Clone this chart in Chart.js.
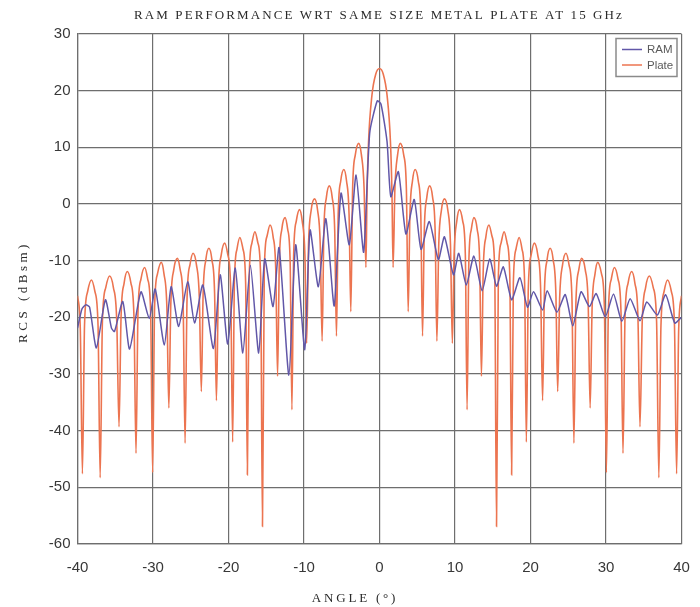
<!DOCTYPE html>
<html>
<head>
<meta charset="utf-8">
<script src="https://cdn.jsdelivr.net/npm/chart.js@4.4.1/dist/chart.umd.min.js"></script>
<style>
  html, body { margin: 0; padding: 0; background: #fff; }
  #caixa { width: 700px; height: 607px; position: relative; }
</style>
</head>
<body>
<div id="caixa"><canvas id="grafico"></canvas></div>
<script>
// textos
const titulo = 'RAM PERFORMANCE WRT SAME SIZE METAL PLATE AT 15 GHz';
const tituloX = 'ANGLE (°)';
const tituloY = 'RCS (dBsm)';
const nomes = ['RAM', 'Plate'];

// eixos
const xTicks = [-40, -30, -20, -10, 0, 10, 20, 30, 40];
const yTicks = [-60, -50, -40, -30, -20, -10, 0, 10, 20, 30];

// RAM
const ramAngle = [
  -40, -39.4, -38.9, -38.4, -37.5, -36.3, -35.5, -35.1, -34.0, -33.1,
  -31.6, -30.5, -29.7, -28.5, -27.6, -26.6, -25.4, -24.5, -23.4, -22.0,
  -21.1, -20.1, -19.1, -18.1, -17.1, -16.0, -15.2, -14.1, -13.3, -12.0,
  -11.1, -9.9, -9.2, -8.1, -7.1, -6.0, -5.1, -4.0, -3.1, -2.1,
  -1.3, -0.3, 0.2, 1.0, 1.5, 2.5, 3.5, 4.6, 5.5, 6.6,
  7.8, 8.6, 9.8, 10.5, 11.5, 12.5, 13.6, 14.6, 15.5, 16.4,
  17.5, 18.6, 19.6, 20.4, 21.6, 22.2, 23.5, 24.6, 25.6, 26.7,
  27.8, 28.7, 29.9, 31.0, 32.1, 33.2, 34.5, 35.4, 36.8, 37.9,
  39.1, 40
];
const ramRcs = [
  -21.9, -18.5, -17.8, -18.2, -25.4, -16.9, -21.9, -22.5, -17.2, -25.6,
  -15.5, -20.2, -15.0, -24.9, -14.6, -21.6, -13.7, -21.0, -14.3, -25.5,
  -12.5, -24.7, -11.3, -26.3, -10.8, -26.3, -9.7, -18.1, -7.7, -30.2,
  -7.2, -25.7, -4.6, -14.6, -2.6, -18.0, 1.9, -7.2, 5.1, -8.5,
  12.5, 18.2, 17.6, 11.0, 1.3, 5.7, -5.3, 0.8, -8.0, -3.1,
  -9.8, -5.8, -12.5, -8.7, -14.3, -9.2, -15.3, -9.7, -14.5, -11.1,
  -16.9, -13.0, -18.2, -15.5, -18.7, -15.3, -19.1, -16.0, -21.5, -15.5,
  -18.1, -15.8, -19.9, -15.9, -20.7, -16.7, -20.6, -17.3, -19.6, -16.0,
  -21.0, -20.0
];

// Placa metalica
const plateAngle = [
  -40, -39.63, -39.35,
  -39.07, -38.65, -38.15, -37.7, -37.28, -37.0,
  -36.7, -36.25, -35.75, -35.25, -34.8, -34.5,
  -34.23, -33.82, -33.4, -32.93, -32.52, -32.25,
  -31.99, -31.59, -31.1, -30.71, -30.31, -30.05,
  -29.79, -29.4, -28.9, -28.55, -28.16, -27.9,
  -27.64, -27.25, -26.75, -26.4, -26.01, -25.75,
  -25.49, -25.1, -24.7, -24.25, -23.86, -23.6,
  -23.36, -23.0, -22.6, -22.2, -21.84, -21.6,
  -21.34, -20.95, -20.5, -20.1, -19.71, -19.45,
  -19.22, -18.87, -18.5, -18.09, -17.73, -17.5,
  -17.26, -16.9, -16.5, -16.1, -15.74, -15.5,
  -15.26, -14.9, -14.5, -14.1, -13.74, -13.5,
  -13.27, -12.93, -12.5, -12.17, -11.83, -11.6,
  -11.37, -11.02, -10.6, -10.24, -9.88, -9.65,
  -9.4, -9.05, -8.6, -8.2, -7.85, -7.6,
  -7.37, -7.03, -6.65, -6.27, -5.93, -5.7,
  -5.47, -5.13, -4.72, -4.37, -4.03, -3.8,
  -3.56, -3.2, -2.75, -2.4, -2.04, -1.8,
  -1.65, -1.45, -1.0, -0.5, 0, 0.5, 1.0, 1.45, 1.65, 1.8,
  2.04, 2.4, 2.75, 3.2, 3.56, 3.8,
  4.03, 4.37, 4.72, 5.13, 5.47, 5.7,
  5.93, 6.27, 6.65, 7.03, 7.37, 7.6,
  7.85, 8.2, 8.6, 9.05, 9.4, 9.65,
  9.88, 10.24, 10.6, 11.02, 11.37, 11.6,
  11.83, 12.17, 12.5, 12.93, 13.27, 13.5,
  13.74, 14.1, 14.5, 14.9, 15.26, 15.5,
  15.74, 16.1, 16.5, 16.9, 17.26, 17.5,
  17.73, 18.09, 18.5, 18.87, 19.22, 19.45,
  19.71, 20.1, 20.5, 20.95, 21.34, 21.6,
  21.84, 22.2, 22.6, 23.0, 23.36, 23.6,
  23.86, 24.25, 24.7, 25.1, 25.49, 25.75,
  26.01, 26.4, 26.75, 27.25, 27.64, 27.9,
  28.16, 28.55, 28.9, 29.4, 29.79, 30.05,
  30.31, 30.71, 31.1, 31.59, 31.99, 32.25,
  32.52, 32.93, 33.4, 33.82, 34.23, 34.5,
  34.8, 35.25, 35.75, 36.25, 36.7, 37.0,
  37.28, 37.7, 38.15, 38.65, 39.07, 39.35,
  39.63, 40
];
const plateRcs = [
  -16.2, -22, -47.6,
  -21.4, -15.4, -13.4, -15.4, -21.4, -48.3,
  -20.7, -14.7, -12.7, -14.7, -20.7, -39.3,
  -19.9, -13.9, -11.9, -13.9, -19.9, -44,
  -19.2, -13.2, -11.2, -13.2, -19.2, -47.4,
  -18.3, -12.3, -10.3, -12.3, -18.3, -36,
  -17.6, -11.6, -9.6, -11.6, -17.6, -42.2,
  -16.7, -10.7, -8.7, -10.7, -16.7, -33.1,
  -15.8, -9.8, -7.8, -9.8, -15.8, -34.7,
  -14.9, -8.9, -6.9, -8.9, -14.9, -42,
  -13.9, -7.9, -5.9, -7.9, -13.9, -47.8,
  -12.9, -6.9, -4.9, -6.9, -12.9, -56.9,
  -11.7, -5.7, -3.7, -5.7, -11.7, -30.4,
  -10.4, -4.4, -2.4, -4.4, -10.4, -36.3,
  -9, -3, -1.0, -3, -9, -24.6,
  -7.1, -1.1, 0.9, -1.1, -7.1, -24.2,
  -4.8, 1.2, 3.2, 1.2, -4.8, -23.3,
  -1.9, 4.1, 6.1, 4.1, -1.9, -19,
  2.7, 8.7, 10.7, 8.7, 2.7, -11.2,
  2, 11, 19.2, 22.9, 23.9, 22.9, 19.2, 11, 2, -11.2,
  2.7, 8.7, 10.7, 8.7, 2.7, -19,
  -1.9, 4.1, 6.1, 4.1, -1.9, -23.3,
  -4.8, 1.2, 3.2, 1.2, -4.8, -24.2,
  -7.1, -1.1, 0.9, -1.1, -7.1, -24.6,
  -9, -3, -1.0, -3, -9, -36.3,
  -10.4, -4.4, -2.4, -4.4, -10.4, -30.4,
  -11.7, -5.7, -3.7, -5.7, -11.7, -56.9,
  -12.9, -6.9, -4.9, -6.9, -12.9, -47.8,
  -13.9, -7.9, -5.9, -7.9, -13.9, -42,
  -14.9, -8.9, -6.9, -8.9, -14.9, -34.7,
  -15.8, -9.8, -7.8, -9.8, -15.8, -33.1,
  -16.7, -10.7, -8.7, -10.7, -16.7, -42.2,
  -17.6, -11.6, -9.6, -11.6, -17.6, -36,
  -18.3, -12.3, -10.3, -12.3, -18.3, -47.4,
  -19.2, -13.2, -11.2, -13.2, -19.2, -44,
  -19.9, -13.9, -11.9, -13.9, -19.9, -39.3,
  -20.7, -14.7, -12.7, -14.7, -20.7, -48.3,
  -21.4, -15.4, -13.4, -15.4, -21.4, -47.6,
  -22, -16.2
];

const corRam = '#6157a8';
const corPlate = '#ec7450';
const corGrade = '#6e6e6e';
const fonteSerif = '"Liberation Serif", "Times New Roman", serif';
const fonteSans = '"Liberation Sans", Arial, sans-serif';

function juntar(xs, ys) {
  return xs.map((x, i) => ({ x: x, y: ys[i] }));
}

// titulo, rotulos dos eixos e legenda
const textosPlugin = {
  id: 'textos',
  afterDraw(chart) {
    const ctx = chart.ctx;
    ctx.save();
    ctx.fillStyle = '#2a2a2a';
    ctx.font = '13px ' + fonteSerif;
    ctx.textAlign = 'center';
    ctx.textBaseline = 'alphabetic';
    ctx.letterSpacing = '2.1px';
    ctx.fillText(titulo, 379, 19);
    ctx.letterSpacing = '2.8px';
    ctx.fillText(tituloX, 355, 601.5);
    ctx.translate(27, 292);
    ctx.rotate(-Math.PI / 2);
    ctx.letterSpacing = '3.5px';
    ctx.fillText(tituloY, 0, 0);
    ctx.restore();

    // legenda
    ctx.save();
    ctx.fillStyle = '#ffffff';
    ctx.fillRect(616, 38.5, 61, 38);
    ctx.strokeStyle = '#8a8a8a';
    ctx.lineWidth = 1.5;
    ctx.strokeRect(616, 38.5, 61, 38);
    ctx.font = '11.5px ' + fonteSans;
    ctx.textAlign = 'left';
    ctx.textBaseline = 'middle';
    chart.data.datasets.forEach((ds, i) => {
      const y = 49.5 + i * 15.5;
      ctx.strokeStyle = ds.borderColor;
      ctx.lineWidth = 1.5;
      ctx.beginPath();
      ctx.moveTo(622, y);
      ctx.lineTo(642, y);
      ctx.stroke();
      ctx.fillStyle = '#5a5a5a';
      ctx.fillText(ds.label, 647, y + 0.5);
    });
    ctx.restore();
  }
};

const ctx = document.getElementById('grafico').getContext('2d');
const chart = new Chart(ctx, {
  type: 'line',
  data: {
    datasets: [
      {
        label: nomes[0],
        data: juntar(ramAngle, ramRcs),
        borderColor: corRam,
        borderWidth: 1.5,
        pointRadius: 0,
        tension: 0.2,
        fill: false
      },
      {
        label: nomes[1],
        data: juntar(plateAngle, plateRcs),
        borderColor: corPlate,
        borderWidth: 1.6,
        pointRadius: 0,
        cubicInterpolationMode: 'monotone',
        fill: false
      }
    ]
  },
  options: {
    responsive: true,
    maintainAspectRatio: false,
    animation: false,
    layout: { padding: { top: 34, right: 18.5, bottom: 0, left: 0 } },
    plugins: {
      legend: { display: false },
      title: { display: false },
      tooltip: { enabled: false }
    },
    scales: {
      x: {
        type: 'linear',
        min: xTicks[0],
        max: xTicks[xTicks.length - 1],
        afterBuildTicks: s => { s.ticks = xTicks.map(v => ({ value: v })); },
        afterFit: s => {
          s.height = 63;
          s.paddingLeft = 0;
          s.paddingRight = 0;
        },
        ticks: {
          color: '#383838',
          font: { family: fonteSans, size: 15 },
          padding: 15,
          maxRotation: 0
        },
        grid: { color: corGrade, lineWidth: 1.2, drawTicks: false },
        border: { color: corGrade, width: 1.2 }
      },
      y: {
        min: yTicks[0],
        max: yTicks[yTicks.length - 1],
        afterBuildTicks: s => { s.ticks = yTicks.map(v => ({ value: v })); },
        afterFit: s => {
          s.width = 77.5;
          s.paddingTop = 0;
          s.paddingBottom = 0;
        },
        ticks: {
          color: '#383838',
          font: { family: fonteSans, size: 15 },
          padding: 7
        },
        grid: { color: corGrade, lineWidth: 1.2, drawTicks: false },
        border: { color: corGrade, width: 1.2 }
      }
    }
  },
  plugins: [textosPlugin]
});
</script>
</body>
</html>
